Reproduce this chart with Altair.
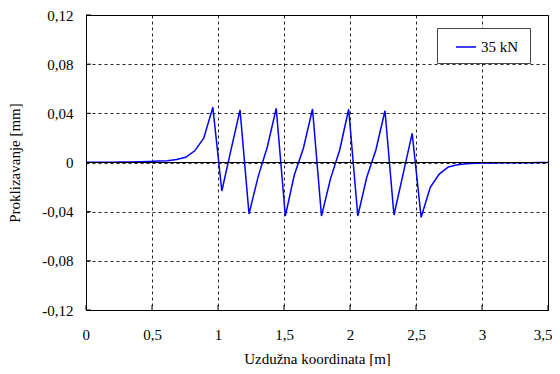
import altair as alt
import pandas as pd

x_m = [0.000, 0.069, 0.137, 0.206, 0.275, 0.343, 0.412, 0.480, 0.549, 0.618,
       0.686, 0.755, 0.824, 0.892, 0.961, 1.029, 1.098, 1.167, 1.235, 1.304,
       1.373, 1.441, 1.510, 1.578, 1.647, 1.716, 1.784, 1.853, 1.922, 1.990,
       2.059, 2.127, 2.196, 2.265, 2.333, 2.402, 2.471, 2.539, 2.608, 2.676,
       2.745, 2.814, 2.882, 2.951, 3.020, 3.088, 3.157, 3.225, 3.294, 3.363,
       3.431, 3.500]
slip_mm = [0.0002, 0.0002, 0.0003, 0.0003, 0.0004, 0.0005, 0.0007, 0.0009, 0.0012, 0.0015,
           0.0024, 0.0042, 0.0095, 0.0197, 0.0449, -0.0232, 0.0100, 0.0427, -0.0419, -0.0115,
           0.0124, 0.0441, -0.0435, -0.0102, 0.0116, 0.0435, -0.0435, -0.0129, 0.0102, 0.0433,
           -0.0435, -0.0120, 0.0102, 0.0421, -0.0427, -0.0094, 0.0237, -0.0446, -0.0202, -0.0094,
           -0.0036, -0.0018, -0.0010, -0.0007, -0.0005, -0.0004, -0.0003, -0.0003, -0.0002, -0.0002,
           -0.0001, -0.0001]
series_name = "35 kN"
x_ticks = [0, 0.5, 1, 1.5, 2, 2.5, 3, 3.5]
y_ticks = [-0.12, -0.08, -0.04, 0, 0.04, 0.08, 0.12]

FONT = "Liberation Serif"
FS = 15

df = pd.DataFrame({"x": x_m, "y": slip_mm, "s": [series_name] * len(x_m)})

xscale = alt.Scale(domain=[0, 3.5], nice=False, zero=False)
yscale = alt.Scale(domain=[-0.12, 0.12], nice=False)

x_axis = alt.Axis(
    values=x_ticks, title="Uzdužna koordinata [m]",
    labelExpr="replace(toString(datum.value), '.', ',')",
    grid=True, gridColor="black", gridDash=[3, 3], gridOpacity=0.85,
    ticks=False, domain=False, labelFlush=True, labelFlushOffset=4,
    labelFont=FONT, labelFontSize=FS, labelColor="black", labelPadding=17,
    titleFont=FONT, titleFontSize=FS, titleFontWeight="normal", titleColor="black",
    titlePadding=9,
)
y_axis = alt.Axis(
    values=y_ticks, title="Proklizavanje [mm]",
    labelExpr="datum.value == 0 ? '0' : (datum.value < 0 ? '-' : '') + replace(format(abs(datum.value), '.2f'), '.', ',')",
    grid=True, gridColor="black", gridDash=[3, 3], gridOpacity=0.85,
    ticks=False, domain=False,
    labelFont=FONT, labelFontSize=FS, labelColor="black", labelPadding=13,
    titleFont=FONT, titleFontSize=FS, titleFontWeight="normal", titleColor="black",
    titlePadding=19,
)

line = alt.Chart(df).mark_line(strokeWidth=1.5).encode(
    x=alt.X("x:Q", scale=xscale, axis=x_axis),
    y=alt.Y("y:Q", scale=yscale, axis=y_axis),
    color=alt.Color(
        "s:N",
        scale=alt.Scale(domain=[series_name], range=["#0000ff"]),
        legend=alt.Legend(
            title="\u00a0", titleOrient="right", titleFont=FONT, titleFontSize=FS,
            titlePadding=4,
            orient="none", legendX=351, legendY=13,
            symbolType="stroke", symbolSize=400, symbolStrokeWidth=1.5,
            labelFont=FONT, labelFontSize=FS, labelColor="black", labelOffset=4,
            fillColor="white", strokeColor="#444", padding=8, symbolOffset=10,
        ),
    ),
)

zero = alt.Chart(pd.DataFrame({"y": [0]})).mark_rule(color="black", strokeWidth=1.2).encode(
    y=alt.Y("y:Q", scale=yscale, axis=y_axis)
)

xt = alt.Chart(pd.DataFrame({"x": x_ticks})).mark_rule(color="black", strokeWidth=1).encode(
    x=alt.X("x:Q", scale=xscale, axis=x_axis), y=alt.value(295), y2=alt.value(290)
)
yt = alt.Chart(pd.DataFrame({"y": y_ticks})).mark_rule(color="black", strokeWidth=1).encode(
    y=alt.Y("y:Q", scale=yscale, axis=y_axis), x=alt.value(0), x2=alt.value(5)
)

chart = alt.layer(line, zero, xt, yt).properties(
    width=462, height=295,
    autosize=alt.AutoSizeParams(type="none"),
    padding={"left": 78, "top": 7, "right": 4, "bottom": 56},
    background="white",
).configure(
    font=FONT
).configure_view(
    stroke="black", strokeWidth=1
).configure_axis(
    labelFont=FONT, titleFont=FONT
).configure_legend(
    labelFont=FONT
)

chart.save("out.html", embed_options={"renderer": "svg", "actions": False})
